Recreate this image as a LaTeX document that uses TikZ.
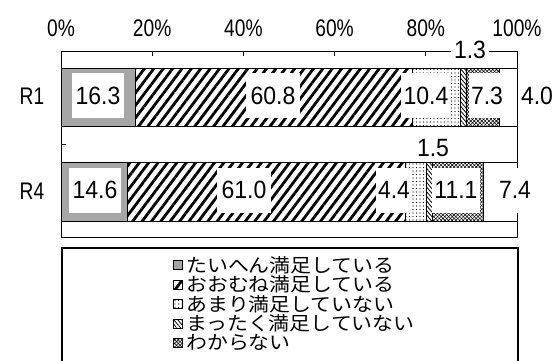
\documentclass[tikz,border=0pt]{standalone}
\usepackage{fontspec}
\setmainfont{Liberation Sans}
\newfontfamily\numfont{Liberation Sans}[FakeStretch=0.92]
\newfontfamily\pctfont{Liberation Sans}[FakeStretch=0.8]
\newfontfamily\jpfont{Noto Sans CJK JP}[FakeStretch=1.1]
\usetikzlibrary{patterns.meta}
\begin{document}
\begin{tikzpicture}[x=1pt,y=-1pt,
  seg/.style={draw=black, line width=0.6pt},
  pA/.style={fill=black!35},
  pB/.style={pattern={Lines[angle=53,distance=7.5pt,line width=2.8pt]}},
  pC/.style={pattern={Dots[distance=3.5pt,radius=0.55pt]}},
  pD/.style={pattern={Lines[angle=-50,distance=3pt,line width=0.8pt]}},
  pE/.style={pattern={Hatch[angle=45,distance=2.6pt,line width=0.55pt]}},
  num/.style={fill=white, inner xsep=5pt, inner ysep=0pt, minimum height=45pt, font=\numfont\fontsize{25}{25}\selectfont},
  numfree/.style={inner sep=1pt, font=\numfont\fontsize{25}{25}\selectfont},
  pct/.style={inner sep=0pt, font=\pctfont\fontsize{24}{24}\selectfont},
  cat/.style={inner sep=0pt, font=\pctfont\fontsize{24}{24}\selectfont},
  leg/.style={anchor=west, inner sep=0pt, font=\jpfont\fontsize{19}{19}\selectfont},
  icon/.style={draw=black, line width=0.6pt},
  frame/.style={draw=black, line width=1pt}
]
\useasboundingbox (0,0) rectangle (555,360);
\clip (0,0) rectangle (555,360);

% axis labels
\foreach \p/\t in {0/0\%,20/20\%,40/40\%,60/60\%,80/80\%,100/100\%}{
  \node[pct] (ax\p) at ({61+4.56*\p},28) {\t};
}

% plot frame
\draw[frame] (61,51) rectangle (517,237);
\foreach \p in {20,40,60,80}{
  \draw[line width=0.8pt] ({61+4.56*\p},51) -- ({61+4.56*\p},56);
}
\draw[line width=0.8pt] (61,144) -- (66,144);

% R1 bar
\path[seg,pA] (61,68) rectangle (135.3,126.5);
\path[seg,pB] (135.3,68) rectangle (412.6,126.5);
\path[seg,pC] (412.6,68) rectangle (460.0,126.5);
\path[seg,pD] (460.0,68) rectangle (465.9,126.5);
\path[seg,pE] (465.9,68) rectangle (499.2,126.5);
\path[seg,fill=white] (499.2,68) rectangle (517,126.5);

% R4 bar
\path[seg,pA] (61,162) rectangle (127.6,221);
\path[seg,pB] (127.6,162) rectangle (405.7,221);
\path[seg,pC] (405.7,162) rectangle (425.8,221);
\path[seg,pD] (425.8,162) rectangle (432.6,221);
\path[seg,pE] (432.6,162) rectangle (483.3,221);
\path[seg,fill=white] (483.3,162) rectangle (517,221);

% category labels
\node[cat] (r1) at (32,96) {R1};
\node[cat] (r4) at (32,191) {R4};

% value labels R1
\node[num,inner xsep=4pt] (v11) at (98,95.5) {16.3};
\node[num] (v12) at (273,95.5) {60.8};
\node[num,inner xsep=3pt] (v13) at (426,95.5) {10.4};
\node[num,inner xsep=2pt] (v15) at (487,95.5) {7.3};
\node[numfree] (v16) at (537,96) {4.0};
\node[numfree,fill=white,inner xsep=3pt,inner ysep=0pt] (v14) at (470,50) {1.3};

% value labels R4
\node[num,inner xsep=4pt] (v41) at (95,190) {14.6};
\node[num] (v42) at (244,190) {61.0};
\node[num,inner xsep=2pt] (v43) at (394,190) {4.4};
\node[num,inner xsep=2pt] (v45) at (456,190) {11.1};
\node[num,inner xsep=2pt] (v46) at (515,190) {7.4};
\node[numfree] (v44) at (433,148) {1.5};

% legend
\draw[frame,line width=1.2pt] (62,248) rectangle (518,380);
\path[icon,pA] (173,260.5) rectangle (182,269.5);
\path[icon,pB] (173,280) rectangle (182,289);
\path[icon,pC] (173,299.5) rectangle (182,308.5);
\path[icon,pD] (173,319) rectangle (182,328);
\path[icon,pE] (173,338.5) rectangle (182,347.5);
\node[leg] (l1) at (186,265) {たいへん満足している};
\node[leg] (l2) at (186,284.5) {おおむね満足している};
\node[leg] (l3) at (186,304) {あまり満足していない};
\node[leg] (l4) at (186,323.5) {まったく満足していない};
\node[leg] (l5) at (186,343) {わからない};
\end{tikzpicture}
\end{document}
